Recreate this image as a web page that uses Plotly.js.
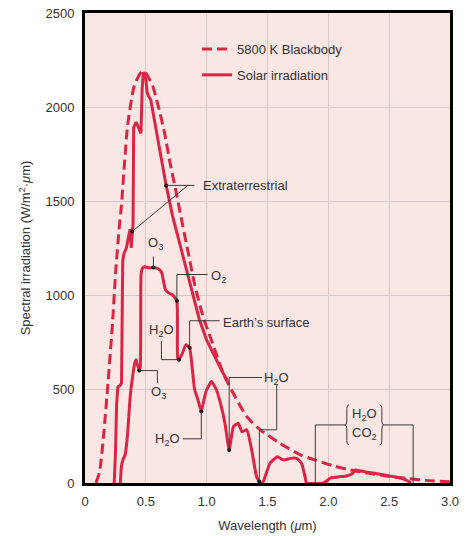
<!DOCTYPE html>
<html>
<head>
<meta charset="utf-8">
<script src="https://cdn.plot.ly/plotly-3.0.1.min.js"></script>
<style>html,body{margin:0;padding:0;background:#fff;}#chart{width:472px;height:536px;}</style>
</head>
<body>
<div id="chart"></div>
<script>
// ---- Data ----
const wavelengthBlackbody = [0.09,0.12,0.157,0.19,0.226,0.253,0.28,0.30,0.35,0.405,0.45,0.475,0.50,0.556,0.60,0.653,0.70,0.75,0.80,0.85,0.90,0.97,1.05,1.135,1.20,1.33,1.44,1.60,1.77,1.90,2.05,2.18,2.35,2.50,2.65,2.80,3.00];
const irradianceBlackbody = [0,60,283,540,850,1130,1349,1480,1900,2113,2175,2193,2180,2113,2010,1865,1700,1544,1380,1220,1060,886,740,585,500,353,283,212,150,120,90,69,50,35,24,14,7];

const wavelengthExtra = [0.24,0.25,0.26,0.27,0.29,0.30,0.305,0.31,0.32,0.34,0.355,0.37,0.38,0.39,0.395,0.40,0.42,0.44,0.46,0.47,0.48,0.49,0.50,0.51,0.52,0.54,0.58,0.62,0.667,0.72,0.78,0.82,0.88,0.94,1.0,1.06,1.13,1.17];
const irradianceExtra = [0,150,420,510,520,530,850,1180,1220,1250,1300,1350,1250,1360,1380,1890,1920,1890,1860,2100,2185,2170,2150,2080,2060,2040,1890,1740,1583,1420,1270,1180,1020,870,760,680,590,545];

const wavelengthSurface = [0.29,0.30,0.31,0.33,0.35,0.37,0.39,0.41,0.42,0.43,0.446,0.455,0.46,0.47,0.49,0.52,0.56,0.60,0.63,0.66,0.69,0.72,0.755,0.762,0.772,0.80,0.83,0.86,0.90,0.93,0.956,0.98,1.0,1.04,1.08,1.12,1.15,1.185,1.22,1.26,1.29,1.33,1.37,1.41,1.44,1.46,1.52,1.58,1.63,1.69,1.74,1.78,1.81,1.82,1.96,2.02,2.10,2.15,2.20,2.22,2.32,2.46,2.60,2.65,2.68];
const irradianceSurface = [0,90,120,150,260,450,560,640,655,630,598,620,1100,1140,1150,1145,1146,1140,1120,1030,1010,1000,970,660,656,690,735,720,500,440,380,450,496,540,496,407,318,176,300,318,273,283,176,34,0,0,105,140,123,131,131,105,30,0,0,27,34,37,52,69,57,43,25,12,0];

const xTickValues = [0,0.5,1.0,1.5,2.0,2.5,3.0];
const xTickLabels = ['0','0.5','1.0','1.5','2.0','2.5','3.0'];
const yTickValues = [0,500,1000,1500,2000,2500];
const seriesNames = ['5800 K Blackbody','Solar irradiation','Earth\u2019s surface'];

// ---- Helpers ----
function interp(xs, ys, x){
  for (let i=0;i<xs.length-1;i++){
    if (x>=xs[i] && x<=xs[i+1]){
      const t=(x-xs[i])/(xs[i+1]-xs[i]);
      return ys[i]+t*(ys[i+1]-ys[i]);
    }
  }
  return x<xs[0]?ys[0]:ys[ys.length-1];
}
const ET = x => interp(wavelengthExtra, irradianceExtra, x);
const ES = x => interp(wavelengthSurface, irradianceSurface, x);

const red = 'rgb(217,38,70)';
const calloutColor = '#3a3a3a';
const fam = '"Liberation Sans", Arial, sans-serif';
const textFont = {family:fam, size:13, color:'#333'};

// callout anchor points on the curves
const pts = [
  [0.667, ET(0.667)], [0.388, ET(0.388)],
  [0.562, ES(0.562)], [0.755, ES(0.755)], [0.86, ES(0.86)],
  [0.772, ES(0.772)], [0.446, ES(0.446)], [0.956, ES(0.956)],
  [1.185, ES(1.185)], [1.433, ES(1.433)]
];

function line(path){ return {type:'path', xref:'x', yref:'y', path:path, line:{color:calloutColor, width:1}}; }
function P(arr){ return arr.map((p,i)=>(i?'L':'M')+p[0]+','+p[1]).join(' '); }

const shapes = [
  // Extraterrestrial
  line(P([[0.90,1583],[pts[0][0],pts[0][1]]])),
  line(P([[0.845,1583],[pts[1][0],pts[1][1]]])),
  // O3 upper
  line(P([[pts[2][0],pts[2][1]],[pts[2][0],1205]])),
  // O2
  line(P([[pts[3][0],pts[3][1]],[pts[3][0],1109],[1.008,1109]])),
  // Earth's surface
  line(P([[pts[4][0],pts[4][1]],[pts[4][0],863],[1.107,863]])),
  // H2O upper
  line(P([[pts[5][0],pts[5][1]],[0.628,pts[5][1]],[0.628,755]])),
  // O3 lower
  line(P([[pts[6][0],pts[6][1]],[0.595,pts[6][1]],[0.595,533]])),
  // H2O lower
  line(P([[pts[7][0],pts[7][1]],[pts[7][0],235],[0.804,235]])),
  // H2O right
  line(P([[pts[8][0],pts[8][1]],[pts[8][0],561],[1.455,561]])),
  line(P([[1.576,528],[1.576,283],[pts[9][0],283],[pts[9][0],pts[9][1]]])),
  // H2O / CO2 bracket
  line(P([[1.893,0],[1.893,309],[2.135,309]])),
  line(P([[2.697,0],[2.697,309],[2.457,309]])),
  line('M2.170,416 Q2.152,416 2.152,395 L2.152,330 Q2.152,309 2.135,309 Q2.152,309 2.152,288 L2.152,224 Q2.152,203 2.170,203'),
  line('M2.422,416 Q2.440,416 2.440,395 L2.440,330 Q2.440,309 2.457,309 Q2.440,309 2.440,288 L2.440,224 Q2.440,203 2.422,203')
];

const ann = (x,y,text,xa,ya) => ({x:x,y:y,xref:'x',yref:'y',text:text,showarrow:false,xanchor:xa||'center',yanchor:ya||'middle',font:textFont});
const annotations = [
  ann(0.955,1583,'Extraterrestrial','left'),
  ann(0.578,1275,'O<sub>3</sub>'),
  ann(1.02,1100,'O<sub>2</sub>','left'),
  ann(1.12,855,'Earth\u2019s surface','left'),
  ann(0.632,810,'H<sub>2</sub>O'),
  ann(0.60,480,'O<sub>3</sub>'),
  ann(0.80,232,'H<sub>2</sub>O','right'),
  ann(1.455,556,'H<sub>2</sub>O','left'),
  ann(2.296,366,'H<sub>2</sub>O'),
  ann(2.296,262,'CO<sub>2</sub>')
];

const traces = [
  {x:wavelengthBlackbody, y:irradianceBlackbody, name:seriesNames[0], mode:'lines', legendgroup:'a',
   line:{color:red, width:3, dash:'10px,5px', shape:'spline', smoothing:0.6}},
  {x:wavelengthExtra, y:irradianceExtra, name:seriesNames[1], mode:'lines', legendgroup:'b',
   line:{color:red, width:3, shape:'linear'}},
  {x:wavelengthSurface, y:irradianceSurface, name:seriesNames[2], mode:'lines', showlegend:false,
   line:{color:red, width:3, shape:'spline', smoothing:0.4}},
  {x:pts.map(p=>p[0]), y:pts.map(p=>p[1]), mode:'markers', showlegend:false, hoverinfo:'skip',
   marker:{color:'#111', size:4}}
];

const layout = {
  width:472, height:536,
  margin:{l:85, r:22, t:13, b:53, pad:0},
  paper_bgcolor:'#ffffff', plot_bgcolor:'rgb(250,230,227)',
  font:textFont,
  showlegend:true,
  legend:{x:(197-85)/365, y:1-(34-13)/470, xanchor:'left', yanchor:'top', bgcolor:'rgba(0,0,0,0)',
          font:{family:fam, size:13, color:'#333'}, tracegroupgap:6, itemwidth:30},
  xaxis:{range:[0,3], tickvals:xTickValues, ticktext:xTickLabels, showgrid:true, gridcolor:'rgb(214,200,200)', gridwidth:1,
         zeroline:false, showline:true, linecolor:'#000', linewidth:3, mirror:true, ticks:'', ticklabelstandoff:4,
         tickfont:{family:fam, size:13, color:'#333'},
         title:{text:'Wavelength (<i>\u03bc</i>m)', standoff:14, font:{family:fam, size:13, color:'#333'}}},
  yaxis:{range:[0,2500], tickvals:yTickValues, showgrid:true, gridcolor:'rgb(214,200,200)', gridwidth:1,
         zeroline:false, showline:true, linecolor:'#000', linewidth:3, mirror:true, ticks:'', ticklabelstandoff:5,
         tickfont:{family:fam, size:13, color:'#333'},
         title:{text:'Spectral irradiation (W/m<sup>2</sup>\u00b7<i>\u03bc</i>m)', standoff:12, font:{family:fam, size:13, color:'#333'}}},
  shapes:shapes,
  annotations:annotations
};

Plotly.newPlot('chart', traces, layout, {staticPlot:true, displayModeBar:false});
</script>
</body>
</html>
